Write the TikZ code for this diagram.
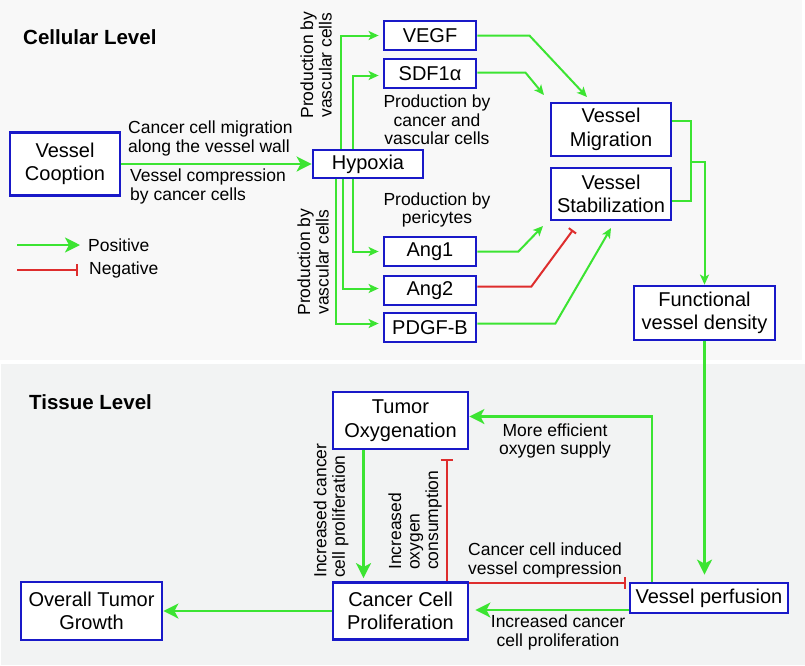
\documentclass[tikz,border=0pt]{standalone}
\usepackage{fontspec}
\setmainfont{Liberation Sans}
\usetikzlibrary{arrows.meta}
\definecolor{boxblue}{RGB}{25,25,200}
\definecolor{posgreen}{RGB}{60,228,50}
\definecolor{negred}{RGB}{222,45,45}
\definecolor{cellbg}{RGB}{248,248,248}
\definecolor{tissuebg}{RGB}{242,243,243}

\begin{document}
\begin{tikzpicture}[x=1pt,y=-1pt,
		box_style/.style={draw=boxblue,line width=2.8pt,fill=white,inner sep=0pt,align=center,font=\fontsize{20}{23.5}\selectfont},
		note_style/.style={inner sep=0pt,font=\fontsize{17.5}{18.5}\selectfont},
		title_style/.style={inner sep=0pt,anchor=west,font=\fontsize{20.5}{24}\selectfont\bfseries},
		pos_style/.style={draw=posgreen,line width=2pt,-{Stealth[length=10pt,width=9pt,inset=2.5pt]}},
		pos_big/.style={draw=posgreen,line width=2.4pt,-{Stealth[length=15pt,width=15pt,inset=4pt]}},
		neg_style/.style={draw=negred,line width=2pt,-{Bar[width=12pt]}}]

		\useasboundingbox (0,0) rectangle (805,665);
		\fill[white] (0,0) rectangle (805,665);
		\fill[cellbg] (0,0) rectangle (802,360);
		\fill[tissuebg] (1,364) rectangle (805,665);

		\node[title_style] (cell_title) at (23,37) {Cellular Level};
		\node[title_style] (tissue_title) at (29,402) {Tissue Level};

		\node[box_style,minimum width=110pt,minimum height=63pt] (cooption) at (65,164) {Vessel\\Cooption};
		\node[box_style,minimum width=110pt,minimum height=28pt] (hypoxia) at (368,164) {Hypoxia};
		\node[box_style,minimum width=92pt,minimum height=29pt] (vegf) at (430,35.5) {VEGF};
		\node[box_style,minimum width=92pt,minimum height=29pt] (sdf) at (430,73.5) {SDF1α};
		\node[box_style,minimum width=92pt,minimum height=29pt] (ang1) at (430,251.5) {Ang1};
		\node[box_style,minimum width=92pt,minimum height=29pt] (ang2) at (430,290.5) {Ang2};
		\node[box_style,minimum width=92pt,minimum height=29pt] (pdgf) at (430,327.5) {PDGF-B};
		\node[box_style,minimum width=120pt,minimum height=53pt] (migration) at (611,129.5) {Vessel\\Migration};
		\node[box_style,minimum width=120pt,minimum height=52pt] (stabil) at (611,194) {Vessel\\Stabilization};
		\node[box_style,minimum width=141pt,minimum height=54pt] (functional) at (704.5,313) {Functional\\vessel density};
		\node[box_style,minimum width=135pt,minimum height=57pt] (oxygen) at (400.5,420.5) {Tumor\\Oxygenation};
		\node[box_style,minimum width=135pt,minimum height=57pt] (prolif) at (400.5,611) {Cancer Cell\\Proliferation};
		\node[box_style,minimum width=141pt,minimum height=58pt] (overall) at (91.5,611) {Overall Tumor\\Growth};
		\node[box_style,minimum width=158pt,minimum height=30pt] (perfusion) at (709,598) {Vessel perfusion};

		\node[note_style,anchor=west,align=left] (mig_note) at (128,138.5) {Cancer cell migration\\along the vessel wall};
		\node[note_style,anchor=west,align=left] (comp_note) at (130,186.5) {Vessel compression\\by cancer cells};
		\node[note_style,align=center,rotate=90] (vasc_top) at (316,65) {Production by\\vascular cells};
		\node[note_style,align=center,rotate=90] (vasc_bot) at (313,262) {Production by\\vascular cells};
		\node[note_style,align=center] (cancer_note) at (437,120) {Production by\\cancer and\\vascular cells};
		\node[note_style,align=center] (peri_note) at (437,210) {Production by\\pericytes};
		\node[note_style,align=center] (supply_note) at (555,441) {More efficient\\oxygen supply};
		\node[note_style,align=left,rotate=90,anchor=west] (prolif_note) at (331,578) {Increased cancer\\cell proliferation};
		\node[note_style,align=left,rotate=90,anchor=west] (consume_note) at (415,570) {Increased\\oxygen\\consumption};
		\node[note_style,align=center] (compress_note) at (545,560.5) {Cancer cell induced\\vessel compression};
		\node[note_style,align=center] (growth_note) at (558,632.5) {Increased cancer\\cell proliferation};

		\coordinate (pos_a) at (17,245);
		\coordinate (pos_b) at (80,245);
		\coordinate (neg_a) at (17,270);
		\coordinate (neg_b) at (78,270);
		\draw[pos_big] (pos_a) -- (pos_b);
		\draw[neg_style] (neg_a) -- (neg_b);
		\node[note_style,anchor=west] (pos_txt) at (88,245) {Positive};
		\node[note_style,anchor=west] (neg_txt) at (89,270) {Negative};

		\draw[pos_big] (cooption) -- (hypoxia);
		\draw[pos_style,shorten >=4pt] ([xshift=-27pt]hypoxia.north) |- (vegf);
		\draw[pos_style,shorten >=4pt] ([xshift=-15pt]hypoxia.north) |- ([yshift=-2pt]sdf.west);
		\draw[pos_style,shorten >=4pt] ([xshift=-15pt]hypoxia.south) |- (ang1);
		\draw[pos_style,shorten >=4pt] ([xshift=-25pt]hypoxia.south) |- ([yshift=2pt]ang2.west);
		\draw[pos_style,shorten >=4pt] ([xshift=-32pt]hypoxia.south) |- ([yshift=4pt]pdgf.west);

		\coordinate (vegf_in) at (587,97);
		\coordinate (sdf_in) at (544,95);
		\coordinate (ang1_in) at (543,226);
		\coordinate (ang2_in) at (573,230);
		\coordinate (pdgf_in) at (611,228);
		\draw[pos_style] (vegf.east) -- ++(52,0) -- (vegf_in);
		\draw[pos_style] ([yshift=1pt]sdf.east) -- ++(48,0) -- (sdf_in);
		\draw[pos_style] (ang1.east) -- ++(41,0) -- (ang1_in);
		\draw[neg_style,-{Bar[width=9pt]}] ([yshift=4pt]ang2.east) -- ++(54,0) -- (ang2_in);
		\draw[pos_style] ([yshift=4pt]pdgf.east) -- ++(78,0) -- (pdgf_in);

		\coordinate (join) at (691,162);
		\draw[draw=posgreen,line width=2pt] ([yshift=9pt]migration.east) -| (join) |- ([yshift=-7pt]stabil.east);
		\draw[pos_style] (join) -| (functional);

		\draw[pos_big,shorten >=7pt] (functional) -- (functional |- perfusion.north);
		\draw[pos_big] ([xshift=-57pt]perfusion.north) |- ([yshift=4pt]oxygen.east);
		\draw[pos_big,shorten >=3pt] ([xshift=-37pt]oxygen.south) -- ([xshift=-37pt]prolif.north);
		\draw[neg_style,shorten >=9pt] ([xshift=46pt]prolif.north) -- ([xshift=46pt]oxygen.south);
		\draw[neg_style,shorten >=3pt] ([yshift=-2pt]prolif.north east) -- ([yshift=-2pt]prolif.north east -| perfusion.west);
		\draw[pos_big,shorten >=6pt] ([yshift=-12pt]perfusion.west) -- ([yshift=-12pt]perfusion.west -| prolif.east);
		\draw[pos_big] (prolif) -- (overall);

\end{tikzpicture}
\end{document}
